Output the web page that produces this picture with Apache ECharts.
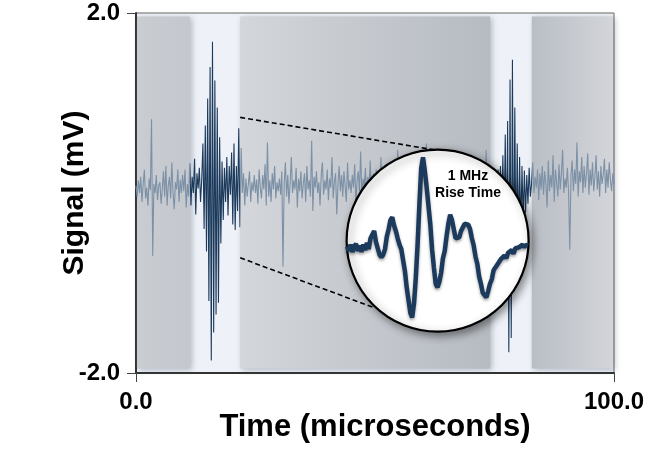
<!DOCTYPE html>
<html><head><meta charset="utf-8">
<script src="https://cdn.jsdelivr.net/npm/echarts@6/dist/echarts.min.js"></script>
<style>html,body{margin:0;padding:0;background:#fff}#c{width:662px;height:449px}</style>
</head><body><div id="c"></div>
<script>
// ---- data ----
const timeStep = 0.25; // microseconds per sample
const signal = [
 0.08,-0.04,0.14,0.00,0.18,-0.10,0.10,0.26,-0.06,0.06,-0.14,0.16,0.03,0.82,-0.70,0.10,0.00,0.20,-0.08,0.08,
 0.12,-0.12,0.05,0.24,-0.04,0.30,-0.14,0.08,0.18,-0.06,0.34,0.00,-0.18,0.12,0.04,0.26,-0.10,0.15,0.00,0.20,
 0.02,0.26,-0.16,0.10,-0.04,0.33,-0.14,0.18,0.00,0.38,-0.24,0.22,0.05,0.28,-0.10,0.15,0.55,-0.40,0.75,-0.65,
 1.05,-1.20,1.40,-1.86,1.68,-1.55,1.25,-1.35,0.95,-1.22,0.62,-0.56,0.35,-0.30,0.28,-0.10,0.40,-0.25,0.30,-0.02,
 0.45,-0.35,0.55,-0.41,0.30,-0.20,0.72,-0.38,0.50,0.00,0.22,-0.14,0.16,-0.04,0.10,0.24,-0.10,0.12,0.02,0.20,
 0.00,0.15,-0.12,0.26,0.06,-0.06,0.20,0.04,0.32,-0.14,0.56,-0.04,0.14,-0.10,0.22,0.04,0.30,-0.06,0.12,0.02,
 0.16,-0.02,0.24,-0.82,0.10,0.34,-0.04,0.20,-0.12,0.12,0.40,0.00,0.14,0.04,0.28,-0.16,0.16,0.02,0.24,-0.06,
 0.10,0.22,-0.10,0.30,0.04,0.14,-0.04,0.58,-0.20,0.18,0.06,0.24,0.00,0.12,-0.14,0.20,0.34,-0.02,0.14,0.04,
 0.26,-0.08,0.16,0.06,0.40,-0.06,0.12,0.22,-0.24,0.10,0.30,0.02,0.20,-0.04,0.24,0.08,-0.10,0.34,0.04,0.14,
 0.00,0.20,0.06,0.32,-0.10,0.14,0.24,0.02,0.46,-0.04,0.16,0.08,0.28,-0.12,0.18,0.04,0.36,0.00,0.12,0.22,
 -0.06,0.26,0.08,0.18,0.00,0.40,0.04,0.14,-0.14,0.30,0.06,0.22,-0.04,0.34,0.10,0.16,0.00,0.24,0.06,0.48,
 0.02,0.20,0.08,0.30,-0.06,0.22,0.12,0.40,0.00,0.16,0.24,0.04,0.32,-0.02,0.20,0.10,0.28,-0.04,0.18,0.44,
 0.06,0.24,0.00,0.55,0.12,0.20,0.02,0.30,0.08,0.16,-0.06,0.28,0.04,0.22,0.10,0.36,-0.02,0.18,0.06,0.26,
 0.00,0.14,0.32,0.04,0.20,-0.04,0.24,0.08,0.40,0.02,0.16,0.06,0.30,-0.06,0.22,0.10,0.18,0.00,0.26,0.04,
 0.20,-0.02,0.28,0.06,0.14,0.32,-0.04,0.18,0.10,0.24,0.00,0.16,0.04,0.48,-0.06,0.20,0.06,0.24,-0.10,0.14,
 0.04,0.18,-0.12,0.26,-0.04,0.30,-0.22,0.42,-0.40,0.65,-0.60,0.80,-1.77,1.26,-1.61,1.48,-1.10,0.95,-0.80,0.55,
 -0.60,0.40,-0.45,0.30,-0.30,0.25,-0.22,0.20,-0.12,0.28,-0.04,0.10,0.34,0.00,0.18,0.06,0.26,-0.08,0.22,0.04,
 0.30,-0.02,0.24,0.10,-0.16,0.36,0.02,0.20,0.06,0.42,-0.10,0.26,0.12,-0.04,0.32,0.04,0.22,0.48,0.00,0.16,
 0.06,0.28,0.00,-0.63,0.20,0.36,0.02,0.26,0.10,0.56,-0.04,0.24,0.12,0.40,0.00,0.30,0.06,0.22,0.44,-0.02,
 0.26,0.08,0.34,0.02,0.18,0.42,0.04,0.24,-0.04,0.30,0.10,0.20,0.38,0.00,0.26,0.06,0.34,0.14,0.02,0.22,0.10
];
// zoomed "1 MHz rise time" waveform, relative units, one sample per inset step
const insetWave = [
 -0.06,-0.11,-0.04,-0.12,-0.06,-0.03,-0.11,-0.05,-0.12,-0.04,
 -0.10,-0.02,-0.09,0.03,0.05,0.11,-0.01,-0.08,-0.15,-0.18,
 -0.15,-0.09,0.05,0.13,0.23,0.26,0.17,0.11,0.03,-0.04,
 -0.09,-0.21,-0.33,-0.51,-0.65,-0.79,-0.84,-0.69,-0.41,-0.04,
 0.40,0.80,0.92,0.77,0.59,0.39,0.19,-0.09,-0.29,-0.47,
 -0.51,-0.45,-0.35,-0.19,-0.11,0.05,0.19,0.29,0.23,0.13,
 0.03,0.02,0.04,0.11,0.13,0.19,0.20,0.18,0.13,0.03,
 -0.05,-0.17,-0.25,-0.39,-0.47,-0.57,-0.59,-0.62,-0.55,-0.47,
 -0.42,-0.32,-0.32,-0.26,-0.27,-0.20,-0.22,-0.16,-0.19,-0.13,
 -0.15,-0.10,-0.14,-0.08,-0.10,-0.07,-0.09,-0.04,-0.07,-0.04,-0.05
];
const xTickLabels = ['0.0', '100.0'];
const yTickLabels = ['-2.0', '2.0'];
const shadedWindows = [[0.2, 11.3], [21.8, 74.1], [82.8, 99.8]];
const burstWindows = [[11.3, 21.8], [74.1, 82.8]];
const zoomLinkTop = [[21.8, 0.84], [62.3, 0.48]];
const zoomLinkBottom = [[21.8, -0.72], [49.6, -1.27]];
const insetCenter = [[63.1, -0.53]];
const xTitle = 'Time (microseconds)';
const yTitle = 'Signal (mV)';
const insetNote = '1 MHz\nRise Time';

// ---- chart ----
const FONT = "'Liberation Sans', Arial, sans-serif";
const DARK = '#1c3a5c', LIGHT = '#7c90a6';
const chart = echarts.init(document.getElementById('c'), null, {renderer: 'canvas'});

const grads = [
  ['#c9cdd2', '#c4c8ce'],
  ['#d3d6da', '#b6bbc2'],
  ['#b9bec5', '#d3d5d9']
];
const areaData = shadedWindows.map((w, i) => [
  {xAxis: w[0], yAxis: 1.96, itemStyle: {
    color: {type: 'linear', x: 0, y: 0, x2: 1, y2: 0,
      colorStops: [{offset: 0, color: grads[i][0]}, {offset: 1, color: grads[i][1]}]},
    shadowBlur: 6, shadowColor: 'rgba(60,70,90,0.35)', shadowOffsetX: 2, shadowOffsetY: 1}},
  {xAxis: w[1], yAxis: -1.95}
]);

const pieces = [];
let prev = null;
burstWindows.forEach(b => {
  pieces.push(prev === null ? {lt: b[0], color: LIGHT} : {gte: prev, lt: b[0], color: LIGHT});
  pieces.push({gte: b[0], lt: b[1], color: DARK});
  prev = b[1];
});
pieces.push({gte: prev, color: LIGHT});

chart.setOption({
  animation: false,
  textStyle: {fontFamily: FONT},
  grid: [
    {left: 136, right: 48, top: 13, bottom: 76, show: true, backgroundColor: '#eef2f8',
     borderColor: '#666', borderWidth: 1, containLabel: false, outerBoundsMode: 'none'},
    {left: 347, top: 150, width: 181, height: 182, outerBoundsMode: 'none'}
  ],
  xAxis: [
    {type: 'value', min: 0, max: 100, interval: 100, gridIndex: 0,
     name: xTitle, nameLocation: 'middle', nameGap: 39, nameMoveOverlap: false,
     nameTextStyle: {fontSize: 31, fontWeight: 'bold', color: '#000', fontFamily: FONT},
     axisLine: {show: true, onZero: false, lineStyle: {color: '#333', width: 2}},
     axisTick: {show: true, length: 9, lineStyle: {color: '#444', width: 1}},
     axisLabel: {fontSize: 24, fontWeight: 'bold', color: '#000', margin: 17, fontFamily: FONT,
       formatter: v => v === 0 ? xTickLabels[0] : xTickLabels[1]},
     splitLine: {show: false}},
    {type: 'value', min: 0, max: 100, gridIndex: 1, show: false}
  ],
  yAxis: [
    {type: 'value', min: -2, max: 2, interval: 4, gridIndex: 0,
     name: yTitle, nameLocation: 'middle', nameGap: 46, nameMoveOverlap: false,
     nameTextStyle: {fontSize: 30, fontWeight: 'bold', color: '#000', fontFamily: FONT},
     axisLine: {show: true, onZero: false, lineStyle: {color: '#333', width: 2}},
     axisTick: {show: true, length: 9, lineStyle: {color: '#444', width: 1}},
     axisLabel: {fontSize: 24, fontWeight: 'bold', color: '#000', margin: 16, fontFamily: FONT,
       formatter: v => v < 0 ? yTickLabels[0] : yTickLabels[1]},
     splitLine: {show: false}},
    {type: 'value', min: -1, max: 1, gridIndex: 1, show: false}
  ],
  visualMap: {type: 'piecewise', show: false, dimension: 0, seriesIndex: 0, pieces: pieces},
  graphic: [{
    type: 'text', z: 100, zlevel: 0,
    style: {text: insetNote, x: 468, y: 185, textAlign: 'center', textVerticalAlign: 'middle',
      font: "bold 14px 'Liberation Sans', Arial, sans-serif", lineHeight: 17, fill: '#000'}
  }],
  series: [
    {type: 'line', xAxisIndex: 0, yAxisIndex: 0, z: 2, symbol: 'none', sampling: null,
     lineStyle: {width: 1.1},
     data: signal.map((v, i) => [i * timeStep, v]),
     markArea: {silent: true, z: 1, data: areaData}},
    {type: 'line', xAxisIndex: 0, yAxisIndex: 0, z: 4, symbol: 'none',
     lineStyle: {color: '#000', width: 1.6, type: [5, 3]}, data: zoomLinkTop},
    {type: 'line', xAxisIndex: 0, yAxisIndex: 0, z: 4, symbol: 'none',
     lineStyle: {color: '#000', width: 1.6, type: [5, 3]}, data: zoomLinkBottom},
    {type: 'scatter', xAxisIndex: 0, yAxisIndex: 0, z: 5, symbol: 'circle', symbolSize: 182,
     itemStyle: {color: '#fff', borderColor: '#000', borderWidth: 2.2, opacity: 1,
       shadowBlur: 8, shadowColor: 'rgba(0,0,0,0.45)', shadowOffsetX: 3, shadowOffsetY: 3},
     emphasis: {disabled: true}, data: insetCenter},
    {type: 'line', xAxisIndex: 1, yAxisIndex: 1, z: 6, symbol: 'none',
     lineStyle: {color: DARK, width: 4.5, shadowBlur: 3, shadowColor: 'rgba(0,0,0,0.35)', shadowOffsetY: 2},
     data: insetWave.map((v, i) => [i, v])}
  ]
});
</script></body></html>
